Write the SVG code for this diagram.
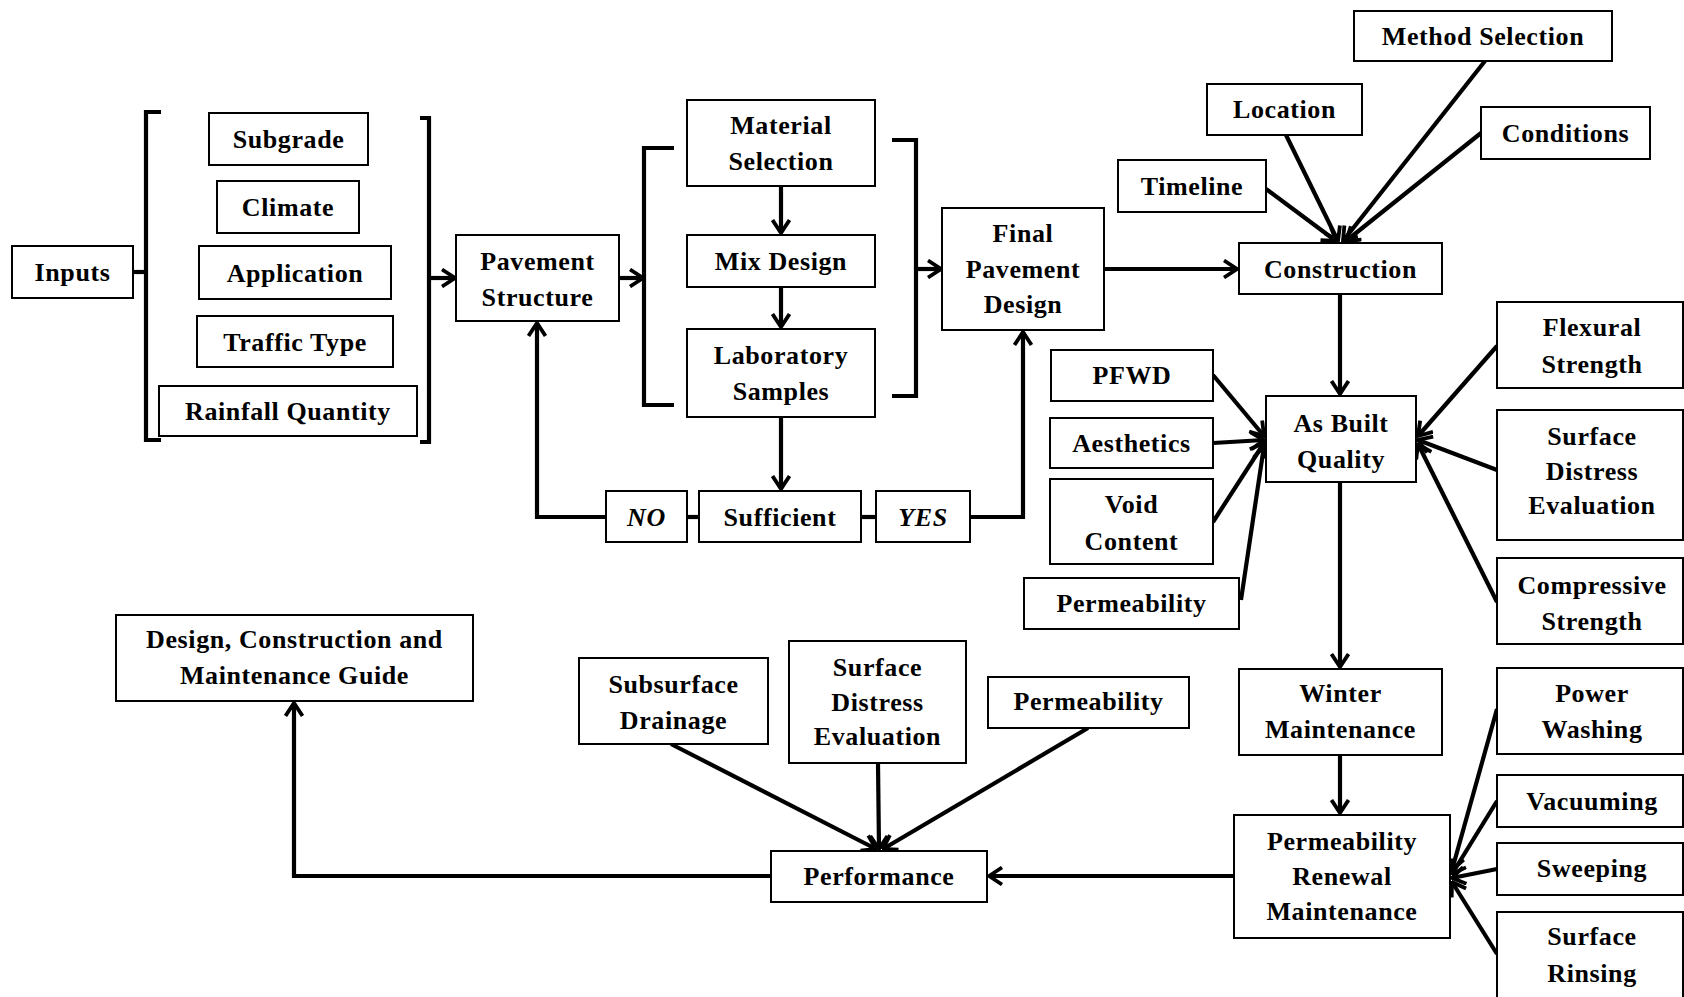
<svg xmlns="http://www.w3.org/2000/svg" width="1684" height="997" viewBox="0 0 1684 997">
<style>
.box{fill:#fff;stroke:#000;stroke-width:2}
.t{font-family:"Liberation Serif","Times New Roman",serif;font-weight:bold;font-size:26px;letter-spacing:0.6px;text-anchor:middle;fill:#000}
.it{font-style:italic}
.c{fill:none;stroke:#000;stroke-width:4.2}
.br{fill:none;stroke:#000;stroke-width:4.2;stroke-linejoin:miter}
</style>
<defs>
<marker id="ah" viewBox="0 0 16 20" refX="14.5" refY="10" markerWidth="16" markerHeight="20" markerUnits="userSpaceOnUse" orient="auto">
<path d="M1.5,1.5 L14.5,10 L1.5,18.5" fill="none" stroke="#000" stroke-width="3.8"/>
</marker>
</defs>
<rect width="1684" height="997" fill="#fff"/>

<g id="connectors">
<path class="br" d="M161,112 L146,112 L146,440 L161,440"/>
<path class="br" d="M420,118 L429,118 L429,442 L420,442"/>
<path class="br" d="M674,148 L644,148 L644,405 L674,405"/>
<path class="br" d="M892,140 L916,140 L916,396 L892,396"/>
<line class="c" x1="133" y1="272" x2="146" y2="272"/>
<line class="c" x1="429" y1="278" x2="455" y2="278" marker-end="url(#ah)"/>
<line class="c" x1="619" y1="278" x2="643" y2="278" marker-end="url(#ah)"/>
<line class="c" x1="916" y1="269" x2="941" y2="269" marker-end="url(#ah)"/>
<line class="c" x1="781" y1="186" x2="781" y2="233" marker-end="url(#ah)"/>
<line class="c" x1="781" y1="287" x2="781" y2="327" marker-end="url(#ah)"/>
<line class="c" x1="781" y1="417" x2="781" y2="489" marker-end="url(#ah)"/>
<line class="c" x1="687" y1="517" x2="699" y2="517"/>
<line class="c" x1="861" y1="517" x2="876" y2="517"/>
<path class="c" d="M606,517 L537,517 L537,323" marker-end="url(#ah)"/>
<path class="c" d="M970,517 L1023,517 L1023,332" marker-end="url(#ah)"/>
<line class="c" x1="1104" y1="269" x2="1237" y2="269" marker-end="url(#ah)"/>
<line class="c" x1="1266" y1="189" x2="1336" y2="241" marker-end="url(#ah)"/>
<line class="c" x1="1286" y1="135" x2="1338" y2="241" marker-end="url(#ah)"/>
<line class="c" x1="1485" y1="61" x2="1343" y2="241" marker-end="url(#ah)"/>
<line class="c" x1="1481" y1="133" x2="1346" y2="241" marker-end="url(#ah)"/>
<line class="c" x1="1340" y1="294" x2="1340" y2="394" marker-end="url(#ah)"/>
<line class="c" x1="1213" y1="375" x2="1264" y2="436" marker-end="url(#ah)"/>
<line class="c" x1="1213" y1="443" x2="1264" y2="440" marker-end="url(#ah)"/>
<line class="c" x1="1213" y1="522" x2="1264" y2="443" marker-end="url(#ah)"/>
<line class="c" x1="1241" y1="600" x2="1264" y2="446" marker-end="url(#ah)"/>
<line class="c" x1="1497" y1="346" x2="1418" y2="436" marker-end="url(#ah)"/>
<line class="c" x1="1497" y1="470" x2="1418" y2="440" marker-end="url(#ah)"/>
<line class="c" x1="1497" y1="602" x2="1418" y2="444" marker-end="url(#ah)"/>
<line class="c" x1="1340" y1="482" x2="1340" y2="667" marker-end="url(#ah)"/>
<line class="c" x1="1340" y1="755" x2="1340" y2="813" marker-end="url(#ah)"/>
<line class="c" x1="1497" y1="709" x2="1452" y2="870" marker-end="url(#ah)"/>
<line class="c" x1="1497" y1="801" x2="1452" y2="874" marker-end="url(#ah)"/>
<line class="c" x1="1497" y1="869" x2="1452" y2="878" marker-end="url(#ah)"/>
<line class="c" x1="1497" y1="954" x2="1452" y2="882" marker-end="url(#ah)"/>
<line class="c" x1="1234" y1="876" x2="989" y2="876" marker-end="url(#ah)"/>
<line class="c" x1="671" y1="744" x2="876" y2="849" marker-end="url(#ah)"/>
<line class="c" x1="878" y1="763" x2="879" y2="849" marker-end="url(#ah)"/>
<line class="c" x1="1088" y1="728" x2="883" y2="849" marker-end="url(#ah)"/>
<path class="c" d="M771,876 L294,876 L294,703" marker-end="url(#ah)"/>
</g>

<g id="inputs"><rect class="box" x="12" y="246" width="121" height="52"/><text class="t" x="72.5" y="281">Inputs</text></g>
<g id="subgrade"><rect class="box" x="209" y="113" width="159" height="52"/><text class="t" x="288.5" y="148">Subgrade</text></g>
<g id="climate"><rect class="box" x="217" y="181" width="142" height="52"/><text class="t" x="288" y="216">Climate</text></g>
<g id="application"><rect class="box" x="199" y="246" width="192" height="53"/><text class="t" x="295" y="282">Application</text></g>
<g id="traffic"><rect class="box" x="197" y="316" width="196" height="51"/><text class="t" x="295" y="351">Traffic Type</text></g>
<g id="rainfall"><rect class="box" x="159" y="386" width="258" height="50"/><text class="t" x="288" y="420">Rainfall Quantity</text></g>
<g id="pavement"><rect class="box" x="456" y="235" width="163" height="86"/><text class="t" x="537.5" y="270">Pavement</text><text class="t" x="537.5" y="306">Structure</text></g>
<g id="material"><rect class="box" x="687" y="100" width="188" height="86"/><text class="t" x="781" y="134">Material</text><text class="t" x="781" y="170">Selection</text></g>
<g id="mix"><rect class="box" x="687" y="235" width="188" height="52"/><text class="t" x="781" y="270">Mix Design</text></g>
<g id="lab"><rect class="box" x="687" y="329" width="188" height="88"/><text class="t" x="781" y="364">Laboratory</text><text class="t" x="781" y="400">Samples</text></g>
<g id="no"><rect class="box" x="606" y="491" width="81" height="51"/><text class="t it" x="646.5" y="526">NO</text></g>
<g id="sufficient"><rect class="box" x="699" y="491" width="162" height="51"/><text class="t" x="780" y="526">Sufficient</text></g>
<g id="yes"><rect class="box" x="876" y="491" width="94" height="51"/><text class="t it" x="923" y="526">YES</text></g>
<g id="final"><rect class="box" x="942" y="208" width="162" height="122"/><text class="t" x="1023" y="242">Final</text><text class="t" x="1023" y="278">Pavement</text><text class="t" x="1023" y="313">Design</text></g>
<g id="construction"><rect class="box" x="1239" y="243" width="203" height="51"/><text class="t" x="1340.5" y="278">Construction</text></g>
<g id="timeline"><rect class="box" x="1118" y="160" width="148" height="52"/><text class="t" x="1192" y="195">Timeline</text></g>
<g id="location"><rect class="box" x="1207" y="84" width="155" height="51"/><text class="t" x="1284.5" y="118">Location</text></g>
<g id="method"><rect class="box" x="1354" y="11" width="258" height="50"/><text class="t" x="1483" y="45">Method Selection</text></g>
<g id="conditions"><rect class="box" x="1481" y="107" width="169" height="52"/><text class="t" x="1565.5" y="142">Conditions</text></g>
<g id="asbuilt"><rect class="box" x="1266" y="396" width="150" height="86"/><text class="t" x="1341" y="432">As Built</text><text class="t" x="1341" y="468">Quality</text></g>
<g id="pfwd"><rect class="box" x="1051" y="350" width="162" height="51"/><text class="t" x="1132" y="384">PFWD</text></g>
<g id="aesthetics"><rect class="box" x="1050" y="418" width="163" height="50"/><text class="t" x="1131.5" y="452">Aesthetics</text></g>
<g id="void"><rect class="box" x="1050" y="479" width="163" height="85"/><text class="t" x="1131.5" y="513">Void</text><text class="t" x="1131.5" y="550">Content</text></g>
<g id="perm1"><rect class="box" x="1024" y="578" width="215" height="51"/><text class="t" x="1131.5" y="612">Permeability</text></g>
<g id="flexural"><rect class="box" x="1497" y="302" width="186" height="86"/><text class="t" x="1592" y="336">Flexural</text><text class="t" x="1592" y="373">Strength</text></g>
<g id="sde1"><rect class="box" x="1497" y="410" width="186" height="130"/><text class="t" x="1592" y="445">Surface</text><text class="t" x="1592" y="480">Distress</text><text class="t" x="1592" y="514">Evaluation</text></g>
<g id="compressive"><rect class="box" x="1497" y="558" width="186" height="86"/><text class="t" x="1592" y="594">Compressive</text><text class="t" x="1592" y="630">Strength</text></g>
<g id="winter"><rect class="box" x="1239" y="669" width="203" height="86"/><text class="t" x="1340.5" y="702">Winter</text><text class="t" x="1340.5" y="738">Maintenance</text></g>
<g id="prm"><rect class="box" x="1234" y="815" width="216" height="123"/><text class="t" x="1342" y="850">Permeability</text><text class="t" x="1342" y="885">Renewal</text><text class="t" x="1342" y="920">Maintenance</text></g>
<g id="power"><rect class="box" x="1497" y="668" width="186" height="86"/><text class="t" x="1592" y="702">Power</text><text class="t" x="1592" y="738">Washing</text></g>
<g id="vacuuming"><rect class="box" x="1497" y="775" width="186" height="52"/><text class="t" x="1592" y="810">Vacuuming</text></g>
<g id="sweeping"><rect class="box" x="1497" y="843" width="186" height="52"/><text class="t" x="1592" y="877">Sweeping</text></g>
<g id="rinsing"><rect class="box" x="1497" y="912" width="186" height="86"/><text class="t" x="1592" y="945">Surface</text><text class="t" x="1592" y="982">Rinsing</text></g>
<g id="performance"><rect class="box" x="771" y="851" width="216" height="51"/><text class="t" x="879" y="885">Performance</text></g>
<g id="subsurface"><rect class="box" x="579" y="658" width="189" height="86"/><text class="t" x="673.5" y="693">Subsurface</text><text class="t" x="673.5" y="729">Drainage</text></g>
<g id="sde2"><rect class="box" x="789" y="641" width="177" height="122"/><text class="t" x="877.5" y="676">Surface</text><text class="t" x="877.5" y="711">Distress</text><text class="t" x="877.5" y="745">Evaluation</text></g>
<g id="perm2"><rect class="box" x="988" y="677" width="201" height="51"/><text class="t" x="1088.5" y="710">Permeability</text></g>
<g id="guide"><rect class="box" x="116" y="615" width="357" height="86"/><text class="t" x="294.5" y="648">Design, Construction and</text><text class="t" x="294.5" y="684">Maintenance Guide</text></g>
</svg>
